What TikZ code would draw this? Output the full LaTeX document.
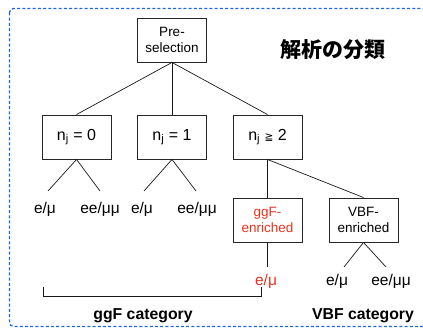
\documentclass[tikz,border=0pt]{standalone}
\usepackage{fontspec}
\setmainfont{Liberation Sans}
\newfontfamily\cjk{Noto Sans CJK JP}
\newfontfamily\dvs{DejaVu Sans}
\definecolor{frameblue}{HTML}{1F66DD}
\definecolor{redtxt}{HTML}{E8321E}
\tikzset{
  catbox/.style={draw=black!85, line width=0.9pt, minimum width=69pt, minimum height=44pt, inner sep=1pt, align=center, font=\fontsize{13.5}{16}\selectfont},
  nbox/.style={catbox, font=\fontsize{16}{18}\selectfont},
  leaf/.style={inner sep=0pt, font=\fontsize{15.5}{17}\selectfont},
  conn/.style={draw=black!90, line width=0.7pt},
  cat/.style={inner sep=0pt, font=\bfseries\fontsize{15.8}{18}\selectfont}
}
\begin{document}
\begin{tikzpicture}[x=1pt,y=-1pt]
\useasboundingbox (0,0) rectangle (423,328);
\begin{scope}
\clip (0,0) rectangle (423,328);
\draw[frameblue, line width=1.3pt, dash pattern=on 3pt off 2.2pt, rounded corners=4pt] (9.5,8.5) rectangle (440,326.5);
\end{scope}
\node[catbox] (pre) at (172,40) {Pre-\\selection};
\node[nbox] (n0) at (76.5,137) {n\textsubscript{j} = 0};
\node[nbox] (n1) at (172,137) {n\textsubscript{j} = 1};
\node[nbox] (n2) at (267.5,137) {n\textsubscript{j} {\dvs\fontsize{10.5}{11}\selectfont ≧} 2};
\node[catbox, text=redtxt] (ggf) at (267.5,220) {ggF-\\enriched};
\node[catbox] (vbf) at (363.5,220) {VBF-\\enriched};
% leaves
\coordinate (l0a) at (48,191); \coordinate (l0b) at (100,191);
\coordinate (l1a) at (144,191); \coordinate (l1b) at (196,191);
\coordinate (lga) at (267.5,267);
\coordinate (lva) at (344,267); \coordinate (lvb) at (386,267);
\node[leaf] (t0a) at (45,209) {e/μ};
\node[leaf] (t0b) at (100,209) {ee/μμ};
\node[leaf] (t1a) at (142,209) {e/μ};
\node[leaf] (t1b) at (197,209) {ee/μμ};
\node[leaf, text=redtxt] (tga) at (266,281) {e/μ};
\node[leaf] (tva) at (337,281) {e/μ};
\node[leaf] (tvb) at (391,281) {ee/μμ};
% connectors
\draw[conn] (pre.south) -- (n0.north);
\draw[conn] (pre.south) -- (n1.north);
\draw[conn] (pre.south) -- (n2.north);
\draw[conn] (n0.south) -- (l0a);
\draw[conn] (n0.south) -- (l0b);
\draw[conn] (n1.south) -- (l1a);
\draw[conn] (n1.south) -- (l1b);
\draw[conn] (n2.south) -- (ggf.north);
\draw[conn] (n2.south) -- (vbf.north);
\draw[conn] (ggf.south) -- (lga);
\draw[conn] (vbf.south) -- (lva);
\draw[conn] (vbf.south) -- (lvb);
% bracket
\coordinate (bl) at (43,287); \coordinate (br) at (261,287);
\draw[conn] (bl) -- ++(0,9) -| (br);
\node[cat] (ggfcat) at (143,316) {ggF category};
\node[cat] (vbfcat) at (363,316) {VBF category};
\node[inner sep=0pt, font=\cjk\bfseries\fontsize{21}{24}\selectfont] (title) at (333,50) {解析の分類};
\end{tikzpicture}
\end{document}
